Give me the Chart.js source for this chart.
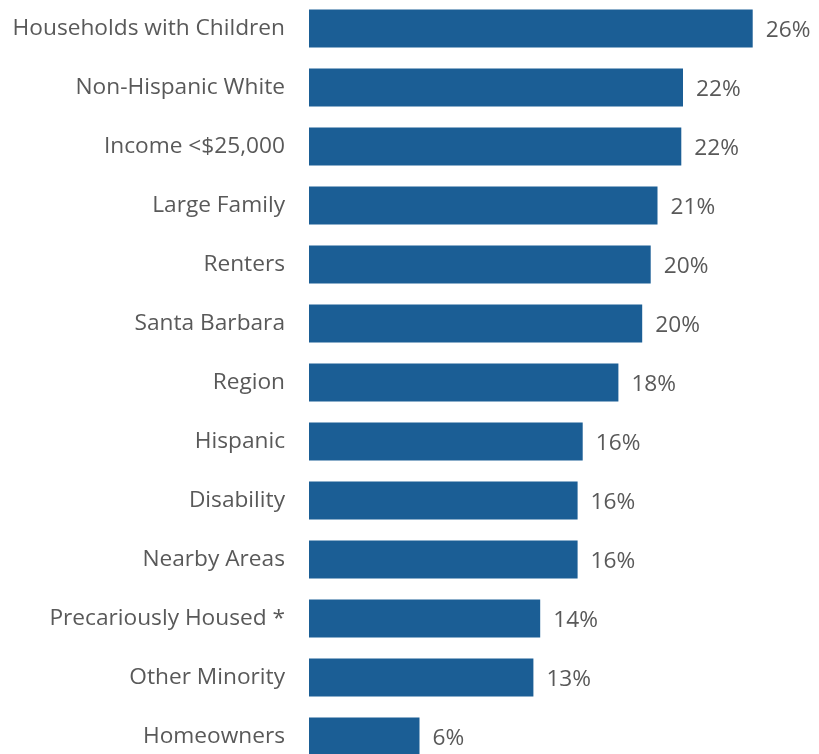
<!DOCTYPE html>
<html>
<head>
<meta charset="utf-8">
<script src="https://cdn.jsdelivr.net/npm/chart.js@4"></script>
<style>
  html, body { margin: 0; padding: 0; background: #fff; overflow: hidden; }
  .wrap { position: absolute; left: 0; top: -1px; width: 819px; height: 767px; }
</style>
</head>
<body>
<div class="wrap"><canvas id="chart"></canvas></div>
<script>
const categories = ['Households with Children', 'Non-Hispanic White', 'Income <$25,000', 'Large Family',
  'Renters', 'Santa Barbara', 'Region', 'Hispanic', 'Disability', 'Nearby Areas',
  'Precariously Housed *', 'Other Minority', 'Homeowners'];
const values = [26.1, 22.0, 21.9, 20.5, 20.1, 19.6, 18.2, 16.1, 15.8, 15.8, 13.6, 13.2, 6.5];
const valueLabels = ['26%', '22%', '22%', '21%', '20%', '20%', '18%', '16%', '16%', '16%', '14%', '13%', '6%'];

const barColor = '#1b5e95';
const textColor = '#595959';

// writes the % label just right of each bar
const valueLabelPlugin = {
  id: 'valueLabels',
  afterDatasetsDraw(chart) {
    const ctx = chart.ctx;
    const meta = chart.getDatasetMeta(0);
    ctx.save();
    ctx.font = '22.7px "Open Sans"';
    ctx.fillStyle = textColor;
    ctx.textAlign = 'left';
    ctx.textBaseline = 'middle';
    meta.data.forEach((bar, i) => {
      ctx.fillText(valueLabels[i], bar.x + 13, bar.y + 2);
    });
    ctx.restore();
  }
};

new Chart(document.getElementById('chart'), {
  type: 'bar',
  data: {
    labels: categories,
    datasets: [{ data: values, backgroundColor: barColor, borderWidth: 0, categoryPercentage: 1, barPercentage: 0.645 }]
  },
  options: {
    indexAxis: 'y',
    responsive: true, maintainAspectRatio: false, animation: false,
    layout: { padding: 0 },
    plugins: { legend: { display: false }, tooltip: { enabled: false } },
    scales: {
      x: { display: false, min: 0, max: 30 },
      y: {
        grid: { display: false, drawTicks: false },
        border: { display: false },
        afterFit(scale) {
          scale.width = 309;
          scale.paddingTop = 0;
          scale.paddingBottom = 0;
        },
        ticks: { color: textColor, padding: 24, font: { family: '"Open Sans"', size: 22.7 } }
      }
    }
  },
  plugins: [valueLabelPlugin]
});
</script>
</body>
</html>
